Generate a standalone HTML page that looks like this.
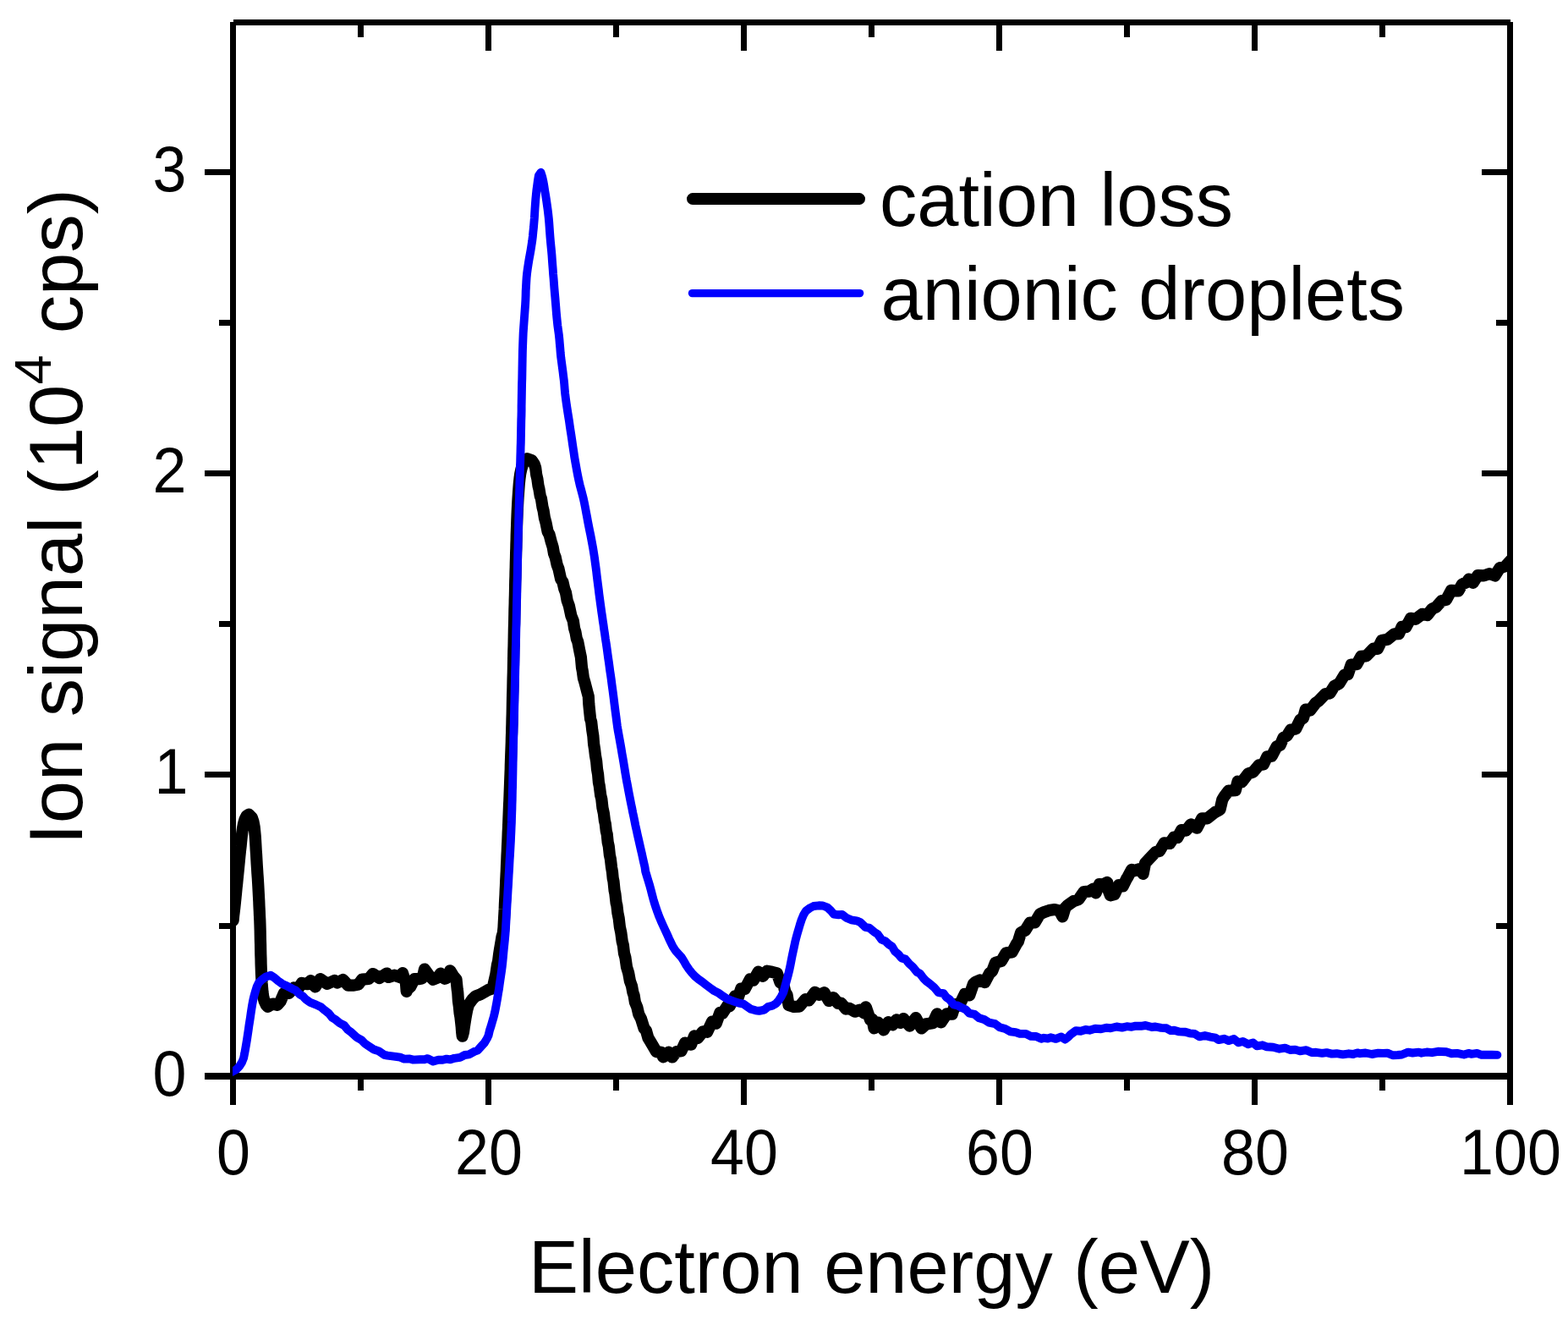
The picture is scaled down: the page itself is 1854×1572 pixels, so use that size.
<!DOCTYPE html>
<html lang="en">
<head>
<meta charset="utf-8">
<title>Ion signal vs electron energy</title>
<style>
html,body{margin:0;padding:0;background:#fff;}
body{width:1854px;height:1572px;overflow:hidden;}
svg{display:block;}
text{font-family:"Liberation Sans",Arial,Helvetica,sans-serif;fill:#000;}
.ax{stroke:#000;stroke-width:7;fill:none;stroke-linecap:butt;shape-rendering:crispEdges;}
.tk{font-size:75.6px;}
.tt{font-size:89px;}
.c1{stroke:#000;stroke-width:14.2;fill:none;stroke-linejoin:round;stroke-linecap:round;}
.c2{stroke:#0000ff;stroke-width:9.9;fill:none;stroke-linejoin:round;stroke-linecap:round;}
</style>
</head>
<body>
<svg width="1854" height="1572" viewBox="0 0 1854 1572">
<defs><clipPath id="plotclip"><rect x="275.0" y="26.5" width="1511.0" height="1246.0"/></clipPath></defs>
<rect x="0" y="0" width="1854" height="1572" fill="#ffffff"/>
<g id="axes">
<line class="ax" x1="242.0" y1="1272.0" x2="1785.5" y2="1272.0" style="stroke-width:8"/>
<line class="ax" x1="275.5" y1="26.5" x2="1785.5" y2="26.5"/>
<line class="ax" x1="275.5" y1="26.0" x2="275.5" y2="1272.0"/>
<line class="ax" x1="1785.5" y1="26.0" x2="1785.5" y2="1272.0"/>
<line class="ax" x1="275.5" y1="1272.0" x2="275.5" y2="1305.5"/>
<line class="ax" x1="275.5" y1="26.5" x2="275.5" y2="60.0"/>
<line class="ax" x1="426.5" y1="1272.0" x2="426.5" y2="1289.0"/>
<line class="ax" x1="426.5" y1="26.5" x2="426.5" y2="43.5"/>
<line class="ax" x1="577.5" y1="1272.0" x2="577.5" y2="1305.5"/>
<line class="ax" x1="577.5" y1="26.5" x2="577.5" y2="60.0"/>
<line class="ax" x1="728.5" y1="1272.0" x2="728.5" y2="1289.0"/>
<line class="ax" x1="728.5" y1="26.5" x2="728.5" y2="43.5"/>
<line class="ax" x1="879.5" y1="1272.0" x2="879.5" y2="1305.5"/>
<line class="ax" x1="879.5" y1="26.5" x2="879.5" y2="60.0"/>
<line class="ax" x1="1030.5" y1="1272.0" x2="1030.5" y2="1289.0"/>
<line class="ax" x1="1030.5" y1="26.5" x2="1030.5" y2="43.5"/>
<line class="ax" x1="1181.5" y1="1272.0" x2="1181.5" y2="1305.5"/>
<line class="ax" x1="1181.5" y1="26.5" x2="1181.5" y2="60.0"/>
<line class="ax" x1="1332.5" y1="1272.0" x2="1332.5" y2="1289.0"/>
<line class="ax" x1="1332.5" y1="26.5" x2="1332.5" y2="43.5"/>
<line class="ax" x1="1483.5" y1="1272.0" x2="1483.5" y2="1305.5"/>
<line class="ax" x1="1483.5" y1="26.5" x2="1483.5" y2="60.0"/>
<line class="ax" x1="1634.5" y1="1272.0" x2="1634.5" y2="1289.0"/>
<line class="ax" x1="1634.5" y1="26.5" x2="1634.5" y2="43.5"/>
<line class="ax" x1="1785.5" y1="1272.0" x2="1785.5" y2="1305.5"/>
<line class="ax" x1="1785.5" y1="26.5" x2="1785.5" y2="60.0"/>
<line class="ax" x1="258.5" y1="1094.0" x2="275.5" y2="1094.0"/>
<line class="ax" x1="1768.5" y1="1094.0" x2="1785.5" y2="1094.0"/>
<line class="ax" x1="242.0" y1="915.9" x2="275.5" y2="915.9"/>
<line class="ax" x1="1752.0" y1="915.9" x2="1785.5" y2="915.9"/>
<line class="ax" x1="258.5" y1="737.9" x2="275.5" y2="737.9"/>
<line class="ax" x1="1768.5" y1="737.9" x2="1785.5" y2="737.9"/>
<line class="ax" x1="242.0" y1="559.9" x2="275.5" y2="559.9"/>
<line class="ax" x1="1752.0" y1="559.9" x2="1785.5" y2="559.9"/>
<line class="ax" x1="258.5" y1="381.8" x2="275.5" y2="381.8"/>
<line class="ax" x1="1768.5" y1="381.8" x2="1785.5" y2="381.8"/>
<line class="ax" x1="242.0" y1="203.8" x2="275.5" y2="203.8"/>
<line class="ax" x1="1752.0" y1="203.8" x2="1785.5" y2="203.8"/>
</g>
<g id="curves" clip-path="url(#plotclip)">
<polyline class="c1" points="275.6,1088.0 276.1,1082.9 276.7,1077.6 277.4,1071.8 278.0,1066.0 278.6,1060.1 279.1,1055.1 279.6,1049.7 280.2,1044.2 280.7,1038.8 281.3,1033.0 281.9,1027.0
282.4,1021.8 282.9,1016.5 283.4,1011.3 284.0,1005.6 284.6,1000.5 285.1,994.9 285.7,989.3 286.3,984.2 287.0,979.2 288.0,973.9 289.4,968.8 291.8,964.1
294.3,962.7 297.9,966.4 299.5,971.2 300.6,977.0 301.2,982.7 301.7,988.0 302.1,993.9 302.4,999.3 302.7,1005.0 303.1,1010.6 303.4,1016.0 303.7,1021.6
304.1,1027.6 304.4,1032.7 304.8,1038.0 305.1,1043.2 305.4,1048.3 305.7,1054.1 306.0,1059.8 306.3,1065.3 306.5,1071.0 306.8,1076.7 307.0,1082.1 307.3,1087.5
307.5,1093.4 307.7,1100.0 307.8,1105.6 307.9,1110.9 308.1,1116.7 308.2,1122.6 308.3,1128.0 308.5,1133.6 308.6,1139.3 308.8,1144.7 309.0,1150.6 309.3,1156.2
309.6,1161.7 310.0,1166.8 310.5,1172.5 311.2,1177.8 312.6,1183.3 314.8,1187.9 316.6,1189.8 321.6,1186.9 322.5,1186.5 327.9,1187.8 331.6,1183.6 335.7,1174.2
341.8,1173.8 347.6,1167.4 352.2,1169.0 356.9,1161.9 364.0,1163.2 367.4,1159.2 372.8,1166.4 378.7,1157.2 386.9,1162.9 395.6,1158.9 398.8,1161.6 405.6,1158.0
411.6,1164.6 418.4,1164.6 423.8,1163.5 428.2,1157.6 436.0,1157.0 440.9,1151.0 448.6,1156.0 457.3,1150.5 459.3,1155.0 466.3,1152.7 474.5,1155.5 476.0,1150.2
479.1,1159.8 479.9,1161.4 480.7,1171.8 481.4,1169.9 485.2,1166.4 490.1,1157.0 494.4,1157.2 498.7,1156.4 500.7,1151.4 502.0,1145.5 507.4,1153.1 512.1,1157.8
517.6,1155.5 520.9,1150.6 525.8,1156.7 527.9,1156.0 530.5,1153.3 532.2,1147.3 535.9,1153.3 539.5,1157.5 540.7,1169.3 541.3,1173.6 541.9,1182.9 542.9,1190.1
543.6,1197.5 544.4,1201.9 545.1,1208.1 545.7,1213.8 546.1,1219.4 546.7,1224.7 548.0,1219.9 548.7,1214.7 549.6,1209.0 550.4,1203.8 551.4,1198.3 552.5,1192.7
554.0,1187.5 558.2,1181.6 562.5,1177.3 567.9,1175.3 576.7,1170.3 582.5,1168.3 584.7,1158.6 586.3,1151.7 587.9,1140.8 589.1,1135.9 590.0,1128.6 590.8,1123.4
591.8,1117.5 592.7,1112.2 593.5,1107.2 594.9,1102.4 595.5,1096.1 595.8,1090.0 596.1,1084.6 596.4,1079.4 596.7,1074.3 596.9,1068.8 597.2,1062.8 597.5,1057.6
597.7,1052.1 598.0,1046.5 598.2,1040.8 598.5,1035.0 598.8,1029.1 599.0,1023.2 599.3,1017.3 599.5,1011.5 599.8,1005.8 600.0,1000.2 600.3,994.9 600.5,989.7
600.7,983.8 601.0,978.4 601.2,972.7 601.4,967.6 601.6,962.4 601.8,957.2 602.0,951.8 602.3,946.4 602.5,941.0 602.7,935.6 602.9,930.2 603.1,924.8
603.3,919.5 603.5,914.3 603.7,909.2 603.8,904.2 604.0,898.3 604.2,892.7 604.4,887.4 604.6,882.4 604.8,876.8 604.9,871.5 605.1,866.3 605.2,861.3
605.4,855.3 605.5,849.4 605.7,843.6 605.8,837.7 605.9,831.8 606.0,826.8 606.1,821.7 606.3,816.5 606.4,811.2 606.5,806.0 606.6,800.8 606.8,795.3
606.9,789.5 607.0,784.5 607.1,779.3 607.2,774.0 607.3,768.7 607.5,763.2 607.6,757.8 607.7,752.3 607.8,746.9 607.9,741.5 608.1,736.2 608.2,730.9
608.3,725.9 608.4,719.9 608.6,714.3 608.7,708.7 608.9,702.8 609.0,697.7 609.1,692.4 609.2,686.9 609.4,681.4 609.5,675.8 609.7,670.2 609.8,664.6
610.0,659.0 610.1,653.5 610.3,648.1 610.4,642.9 610.6,637.9 610.7,632.1 610.9,626.8 611.1,621.0 611.3,615.3 611.5,610.1 611.7,605.0 612.0,599.0
612.3,593.4 612.6,588.2 613.0,582.4 613.4,577.1 613.8,571.7 614.5,565.3 615.2,560.1 616.3,554.9 617.8,549.6 620.6,544.4 623.3,542.2 628.9,544.2
631.7,548.6 633.2,553.1 634.2,561.1 635.4,566.2 636.5,574.2 637.5,578.3 638.8,586.4 639.9,589.1 641.5,599.4 642.6,603.6 643.9,612.0 645.5,617.8
647.6,628.3 649.6,632.0 651.7,640.1 653.7,646.7 655.0,654.2 656.8,658.9 658.7,667.7 660.5,672.4 663.1,684.3 665.4,687.8 667.3,696.1 669.0,700.6
670.7,710.0 672.9,716.2 675.4,727.9 677.8,733.9 679.1,742.7 680.5,747.4 681.8,754.9 683.3,758.7 685.5,770.3 686.9,776.8 688.0,789.1 688.8,793.1
689.9,801.4 691.5,806.7 694.4,818.0 695.8,823.1 696.3,832.3 696.9,838.2 698.1,849.7 699.2,853.3 700.3,863.2 701.4,870.2 702.1,879.4 703.1,885.7
704.0,893.3 705.2,900.1 706.0,909.0 707.1,915.4 707.9,924.7 708.7,928.4 710.2,940.0 711.3,944.4 712.5,955.1 713.9,961.6 714.9,969.9 715.8,973.6
716.8,982.5 717.7,985.8 718.7,995.7 719.8,1000.4 720.9,1010.8 721.9,1015.2 723.0,1024.9 724.0,1030.8 724.7,1038.1 725.5,1041.7 726.6,1052.6 727.4,1056.4
728.6,1067.2 729.4,1070.3 730.4,1079.1 731.7,1085.5 732.9,1095.8 734.3,1102.2 735.7,1112.8 736.9,1117.4 738.0,1126.8 739.4,1131.7 741.0,1143.0 743.1,1149.8
744.9,1159.6 747.0,1165.4 748.4,1173.0 749.6,1176.5 750.9,1184.6 753.3,1190.4 755.2,1198.7 758.1,1204.3 761.6,1215.6 763.9,1217.9 766.4,1226.8 771.2,1234.7
776.1,1243.1 781.8,1243.7 784.1,1249.3 790.6,1243.7 794.9,1249.5 799.8,1243.0 805.5,1242.2 810.0,1232.6 817.1,1234.7 821.0,1224.4 825.1,1226.9 831.0,1219.3
836.2,1219.8 842.0,1207.5 846.7,1209.7 851.4,1196.8 854.4,1197.6 860.7,1187.9 862.6,1189.4 869.1,1177.3 872.3,1180.3 876.2,1168.7 880.7,1169.0 886.8,1157.5
891.0,1158.6 896.6,1148.7 902.0,1153.9 906.9,1147.7 912.8,1148.8 918.8,1150.4 922.5,1161.2 926.3,1163.3 928.5,1172.8 930.5,1175.7 932.5,1187.9 938.7,1189.9
945.1,1189.7 952.2,1181.2 956.6,1182.4 963.6,1172.8 968.7,1175.9 974.7,1173.2 980.1,1183.0 985.5,1179.2 991.0,1186.0 994.6,1185.6 1000.2,1192.6 1004.3,1191.8
1010.8,1195.7 1016.4,1193.7 1021.8,1197.3 1023.8,1190.3 1029.0,1205.3 1031.5,1204.9 1033.5,1215.4 1038.3,1208.6 1044.8,1217.4 1050.3,1208.1 1055.4,1211.4 1060.0,1205.3
1064.9,1209.0 1068.3,1204.1 1075.6,1212.6 1082.9,1203.1 1089.5,1215.4 1095.0,1210.4 1102.9,1209.3 1108.0,1198.3 1112.6,1208.4 1119.5,1198.3 1125.8,1198.6 1129.3,1187.2
1134.1,1188.6 1140.7,1175.0 1146.3,1176.3 1150.9,1163.1 1153.3,1160.7 1158.6,1158.5 1164.4,1161.1 1170.0,1150.5 1173.2,1147.8 1177.0,1137.9 1184.0,1135.9 1189.7,1126.2
1196.6,1125.5 1201.8,1115.8 1203.8,1113.1 1207.1,1102.3 1212.2,1099.7 1217.9,1090.5 1223.6,1090.5 1229.5,1080.5 1234.2,1078.3 1240.4,1076.1 1247.1,1075.0 1252.9,1076.6
1256.3,1083.4 1259.5,1072.9 1262.6,1069.8 1269.7,1065.0 1275.4,1063.0 1281.6,1054.0 1287.6,1053.7 1292.8,1050.5 1295.7,1055.4 1299.9,1045.1 1304.3,1045.3 1309.2,1042.9
1310.7,1052.7 1312.9,1058.3 1317.7,1057.2 1322.9,1046.0 1327.8,1047.3 1332.0,1038.8 1333.4,1036.7 1338.1,1027.9 1341.0,1029.1 1347.7,1027.0 1351.6,1032.9 1354.0,1020.3
1358.2,1015.7 1366.4,1007.1 1371.0,1005.9 1376.6,996.3 1383.1,997.0 1388.0,989.7 1392.2,990.0 1397.1,981.0 1402.4,981.7 1408.1,974.4 1415.2,978.7 1421.2,967.3
1427.5,967.3 1437.0,959.8 1442.5,957.0 1445.2,945.3 1447.4,941.5 1452.7,934.6 1460.8,934.1 1463.5,923.7 1468.4,924.2 1475.8,914.5 1481.7,912.5 1488.6,904.2
1493.9,903.5 1498.3,894.3 1503.7,893.6 1509.6,882.4 1513.7,880.7 1517.3,872.2 1521.8,869.5 1526.2,862.5 1532.1,861.5 1537.3,850.9 1541.0,848.6 1543.8,838.5
1549.0,839.7 1555.5,831.1 1559.5,828.2 1566.9,820.3 1572.4,819.4 1577.8,810.8 1583.5,807.9 1589.7,797.8 1593.8,797.1 1597.7,785.5 1604.2,785.1 1609.3,775.8
1615.5,775.4 1623.9,766.7 1629.0,766.8 1633.7,757.0 1640.6,755.7 1648.6,749.3 1654.0,749.1 1657.6,740.8 1662.4,741.1 1668.0,730.8 1673.7,731.8 1681.6,725.8
1687.6,727.0 1693.5,719.5 1697.8,717.7 1704.5,710.2 1710.0,708.9 1715.9,697.9 1724.5,698.3 1728.8,690.6 1734.4,688.0 1736.8,684.6 1741.7,688.9 1747.4,680.0
1754.6,680.4 1761.1,678.1 1767.6,680.4 1773.2,671.4 1780.0,669.3 1787.1,661.6 1788.6,664.1"/>
<polyline class="c2" points="274.2,1267.0 279.6,1264.0 283.2,1260.1 286.1,1255.5 288.1,1250.5 289.2,1245.1 290.1,1240.1 291.0,1234.8 292.0,1228.9 292.8,1223.6 293.7,1217.6 294.4,1212.4
295.2,1207.4 296.0,1202.2 296.7,1197.3 297.5,1192.0 298.3,1187.1 299.3,1181.9 300.5,1176.8 302.0,1171.6 303.6,1166.4 305.9,1161.6 309.9,1157.7 314.4,1154.4
320.0,1152.8 324.3,1155.5 328.7,1159.3 333.8,1162.9 339.7,1165.6 345.6,1168.7 349.6,1170.5 354.4,1175.4 358.0,1177.3 361.4,1181.0 366.3,1184.6 373.9,1187.6
379.5,1190.3 384.1,1194.2 389.0,1198.0 392.7,1202.7 396.1,1204.7 401.5,1209.1 407.0,1212.0 411.2,1217.1 415.5,1220.3 421.6,1225.9 427.4,1229.3 431.4,1233.4
435.8,1236.3 441.5,1240.2 447.9,1242.4 454.5,1246.8 458.2,1247.6 465.8,1248.6 473.1,1249.7 477.9,1251.6 484.5,1251.5 488.7,1252.6 496.6,1252.3 501.9,1252.2
505.7,1251.1 512.2,1254.5 518.3,1252.7 523.5,1252.7 528.0,1251.6 532.4,1252.4 537.2,1250.8 544.0,1249.8 549.5,1247.0 554.5,1246.4 561.4,1242.7 565.0,1241.3
568.9,1236.9 572.8,1232.6 575.7,1227.8 577.5,1224.0 579.0,1217.6 580.5,1213.1 582.0,1207.9 583.7,1202.1 585.1,1196.4 586.1,1191.3 587.2,1185.3 588.2,1179.7
589.0,1174.5 590.0,1168.9 590.7,1163.7 591.5,1158.1 592.3,1152.8 593.1,1147.2 593.8,1142.0 594.4,1136.4 594.9,1131.2 595.4,1125.6 595.9,1120.4 596.5,1114.8
597.0,1109.6 597.5,1104.0 597.8,1099.9 598.1,1094.7 598.4,1089.5 598.7,1084.1 599.0,1078.8 599.3,1073.7 599.6,1068.1 600.0,1062.1 600.3,1056.9 600.6,1051.4
601.0,1045.7 601.3,1039.9 601.6,1034.1 602.0,1028.1 602.3,1022.2 602.6,1016.3 603.0,1010.5 603.3,1004.8 603.6,999.2 603.9,993.9 604.1,988.7 604.4,982.9
604.6,977.5 604.9,971.7 605.0,966.6 605.2,961.4 605.4,956.1 605.5,950.7 605.7,945.3 605.8,939.9 605.9,934.5 606.1,929.1 606.2,923.8 606.3,918.5
606.4,913.3 606.5,908.2 606.6,902.2 606.7,896.4 606.8,890.9 606.9,885.7 607.1,880.0 607.2,874.6 607.3,869.4 607.5,864.3 607.6,859.3 607.8,853.4
607.9,847.5 608.1,841.6 608.2,835.7 608.4,829.8 608.5,824.8 608.6,819.6 608.7,814.4 608.8,809.3 609.0,803.5 609.1,798.1 609.2,792.4 609.4,786.5
609.5,781.4 609.6,776.2 609.7,770.8 609.8,765.4 610.0,760.0 610.1,754.5 610.2,749.1 610.3,743.6 610.5,738.3 610.6,733.0 610.7,727.9 610.8,722.9
610.9,717.1 611.0,711.6 611.2,705.9 611.3,700.1 611.4,694.2 611.5,689.1 611.7,684.0 611.8,678.7 611.9,673.5 612.0,668.2 612.1,662.9 612.2,657.6
612.3,652.4 612.5,647.2 612.6,642.0 612.7,636.9 612.8,631.9 613.0,626.1 613.1,620.4 613.2,614.9 613.4,609.2 613.5,603.3 613.7,598.2 613.8,593.0
614.0,587.6 614.1,582.3 614.3,576.9 614.4,571.4 614.6,566.0 614.7,560.6 614.9,555.3 615.0,550.0 615.2,544.9 615.3,539.8 615.5,534.0 615.6,528.5
615.8,523.3 615.9,517.9 616.0,512.6 616.1,507.3 616.2,501.8 616.3,496.4 616.5,491.0 616.6,485.6 616.6,480.2 616.7,475.0 616.8,469.9 616.9,464.0
617.0,458.4 617.1,453.1 617.3,447.4 617.4,441.3 617.5,435.7 617.6,430.2 617.7,424.9 617.8,419.7 617.9,414.7 618.1,408.9 618.3,403.5 618.5,398.4
618.7,393.3 619.1,387.7 619.5,382.0 619.9,376.4 620.3,371.1 620.7,365.4 621.1,359.9 621.4,354.5 621.6,349.3 621.7,344.0 622.0,338.8 622.3,333.2
622.6,328.2 623.1,323.1 623.8,317.8 624.7,311.9 625.6,306.4 626.6,301.0 627.6,295.3 628.4,290.2 629.2,285.1 629.9,279.3 630.4,274.0 631.0,268.4
631.4,263.3 631.9,257.3 632.2,251.9 632.5,246.8 632.9,241.1 633.3,235.8 633.8,230.8 634.4,224.8 635.2,219.0 636.0,213.0 636.9,207.6 639.5,203.8
641.2,209.0 642.4,214.3 643.4,220.2 644.3,226.0 645.3,231.8 646.1,236.9 646.8,242.0 647.6,247.6 648.2,252.7 648.8,258.0 649.3,263.8 649.7,269.3
650.1,275.0 650.5,280.3 651.0,286.2 651.5,291.3 652.0,296.2 652.5,301.9 652.9,307.8 653.3,313.1 653.7,318.2 654.1,324.1 654.6,329.6 655.0,335.2
655.4,340.4 655.9,346.4 656.4,351.7 656.8,356.8 657.3,362.7 657.7,368.0 658.2,373.7 658.7,378.8 659.3,384.6 660.1,390.4 660.8,395.4 661.4,401.0
661.8,406.0 662.3,411.4 662.7,416.8 663.3,422.7 664.1,428.6 664.8,433.8 665.5,439.1 666.1,444.1 666.8,449.7 667.3,454.8 667.7,460.1 668.2,465.3
668.9,471.0 669.7,476.9 670.5,482.2 671.3,487.4 672.1,492.4 673.0,498.1 673.7,503.2 674.5,508.5 675.3,513.6 676.2,519.4 677.0,525.2 677.8,530.4
678.6,535.7 679.3,540.7 680.3,546.3 681.2,551.3 682.1,556.5 683.1,561.7 684.3,567.5 685.6,573.2 687.0,578.4 688.4,583.7 689.7,588.7 690.9,594.3
692.0,599.9 693.1,605.8 694.1,611.0 695.1,616.7 696.2,622.3 697.3,627.7 698.3,632.6 699.3,637.8 700.3,643.2 701.3,648.7 702.2,654.3 703.0,659.4
703.7,664.9 704.4,669.8 705.1,675.1 705.7,680.5 706.4,686.1 707.1,691.6 707.8,697.0 708.4,702.2 709.2,708.1 709.9,713.4 710.6,718.4 711.3,723.6
712.1,728.8 712.8,734.0 713.6,739.1 714.3,744.3 715.1,749.3 715.9,755.2 716.8,760.8 717.6,766.4 718.4,772.4 719.1,777.5 719.9,782.7 720.6,788.0
721.3,793.3 722.1,798.5 722.8,803.5 723.5,809.2 724.3,814.9 725.0,820.1 725.7,825.6 726.4,831.3 727.1,836.9 727.8,842.4 728.5,847.5 729.2,853.1
729.9,858.4 730.7,863.5 731.7,868.8 732.6,873.9 733.7,880.0 734.6,885.2 735.5,890.7 736.4,895.7 737.3,901.0 738.2,906.5 739.1,912.1 740.0,917.5
740.9,922.7 742.0,928.3 743.0,933.9 744.1,939.7 745.1,944.8 746.1,949.9 747.2,955.1 748.2,960.3 749.3,965.3 750.3,970.2 751.4,975.8 752.7,981.5
753.8,986.7 755.1,992.4 756.4,998.1 757.7,1003.9 759.0,1009.4 760.1,1014.5 761.3,1019.8 762.5,1025.0 763.2,1030.0 764.7,1035.0 766.4,1040.6 768.1,1046.2
769.6,1051.8 771.0,1057.3 772.4,1062.6 774.1,1068.2 775.7,1073.2 777.4,1078.1 779.4,1083.4 781.7,1088.9 783.9,1093.7 786.2,1098.7 788.6,1103.9 790.9,1109.1
793.3,1114.2 795.5,1118.7 798.7,1123.7 802.3,1127.6 805.9,1131.6 808.7,1136.1 811.3,1140.7 814.7,1145.7 818.1,1150.0 821.7,1153.9 825.7,1157.2 830.3,1160.6
834.9,1164.1 839.6,1167.6 844.5,1171.1 849.5,1173.7 854.0,1176.8 858.3,1179.7 863.0,1181.9 868.4,1183.8 873.8,1185.7 879.0,1186.7 883.6,1189.8 888.0,1192.8
893.5,1194.3 897.6,1194.9 903.6,1193.6 908.0,1190.1 913.1,1188.7 917.5,1186.2 921.0,1182.2 923.9,1177.6 926.2,1173.1 927.6,1168.2 929.0,1163.0 930.6,1157.1
932.1,1151.6 933.4,1146.3 934.6,1140.5 935.6,1135.3 936.6,1130.1 937.8,1124.4 938.9,1119.4 940.0,1114.2 941.2,1109.2 942.8,1103.3 944.4,1097.8 946.0,1092.4
947.8,1086.9 950.0,1081.6 952.9,1076.7 956.9,1073.7 962.0,1071.0 968.0,1070.3 973.0,1070.5 978.4,1072.6 982.4,1076.4 985.9,1080.5 991.6,1081.3 995.7,1080.9
1000.5,1084.7 1006.5,1087.3 1013.0,1088.3 1017.2,1090.1 1023.2,1095.8 1028.2,1096.9 1033.7,1101.6 1037.7,1104.1 1042.2,1110.4 1047.1,1112.6 1051.3,1116.5 1054.8,1118.7
1058.2,1124.5 1062.3,1128.0 1066.0,1132.4 1070.5,1133.6 1075.1,1139.1 1079.3,1142.9 1084.3,1149.0 1087.8,1150.7 1092.0,1156.4 1095.4,1159.7 1100.9,1163.9 1104.4,1166.9
1109.8,1173.2 1115.5,1174.1 1119.2,1178.9 1122.8,1181.4 1127.6,1187.5 1132.0,1188.3 1137.8,1191.3 1142.0,1193.4 1146.1,1197.7 1152.3,1198.8 1157.8,1203.3 1164.3,1205.3
1169.4,1208.6 1176.6,1210.1 1182.1,1214.2 1188.6,1216.0 1194.7,1219.3 1200.9,1220.1 1205.9,1221.9 1212.9,1221.9 1218.9,1224.9 1225.1,1225.0 1231.2,1227.7 1234.2,1226.8
1239.3,1227.5 1242.3,1226.2 1248.5,1227.9 1254.9,1225.4 1259.3,1228.6 1263.2,1225.6 1265.9,1222.8 1272.0,1218.2 1277.9,1218.7 1283.5,1217.0 1288.3,1217.7 1294.9,1215.8
1301.8,1216.3 1308.1,1214.7 1313.2,1215.2 1320.2,1213.5 1326.7,1214.6 1332.4,1213.2 1338.0,1213.8 1342.7,1212.6 1349.2,1212.8 1354.5,1212.0 1361.9,1214.0 1366.2,1213.5
1372.9,1214.9 1379.2,1215.3 1384.3,1218.1 1388.4,1217.7 1394.4,1219.4 1401.6,1219.8 1406.7,1221.3 1412.5,1221.9 1418.2,1225.4 1424.7,1224.0 1431.2,1225.6 1437.1,1226.7
1440.8,1229.1 1447.5,1227.8 1452.9,1230.1 1459.0,1228.0 1464.4,1232.3 1469.5,1230.9 1475.6,1234.2 1481.6,1232.4 1486.1,1236.3 1492.7,1235.3 1498.0,1237.3 1505.4,1237.8
1512.8,1239.7 1519.4,1238.7 1525.4,1241.0 1531.5,1240.6 1537.1,1242.4 1544.5,1241.2 1550.9,1244.1 1556.1,1243.8 1563.3,1244.9 1568.6,1244.1 1574.8,1245.6 1580.4,1245.2
1587.7,1246.4 1594.8,1245.3 1600.0,1246.0 1605.0,1244.4 1608.1,1245.2 1614.7,1244.5 1622.1,1246.0 1629.6,1244.7 1635.2,1244.9 1640.4,1244.6 1646.8,1247.3 1652.4,1247.0
1657.6,1246.5 1664.8,1243.7 1670.2,1244.5 1677.5,1243.6 1680.5,1244.7 1687.0,1243.5 1693.1,1244.2 1700.2,1242.8 1704.2,1243.0 1710.0,1243.3 1716.3,1245.3 1722.9,1244.9
1730.8,1246.5 1736.3,1244.9 1739.6,1245.8 1746.4,1244.9 1751.8,1246.8 1756.4,1246.6 1763.9,1246.8 1770.4,1246.9"/>
</g>
<g id="xticklabels" class="tk" text-anchor="middle">
<text transform="translate(276.0,1387.6) scale(0.950,1)">0</text>
<text transform="translate(578.0,1387.6) scale(0.950,1)">20</text>
<text transform="translate(880.0,1387.6) scale(0.950,1)">40</text>
<text transform="translate(1182.0,1387.6) scale(0.950,1)">60</text>
<text transform="translate(1484.0,1387.6) scale(0.950,1)">80</text>
<text transform="translate(1786.0,1387.6) scale(0.950,1)">100</text>
</g>
<g id="yticklabels" class="tk" text-anchor="end">
<text transform="translate(220.5,1294.5) scale(0.950,1)">0</text>
<text transform="translate(222.5,938.4) scale(0.950,1)">1</text>
<text transform="translate(220.5,582.4) scale(0.950,1)">2</text>
<text transform="translate(220.5,226.3) scale(0.950,1)">3</text>
</g>
<text class="tt" transform="translate(1030.7,1528) scale(0.994,1)" text-anchor="middle">Electron energy (eV)</text>
<text class="tt" transform="translate(97.4,610.8) rotate(-90) scale(1.018,1)" text-anchor="middle">Ion signal (10<tspan font-size="62" dy="-37">4</tspan><tspan dy="37"> cps)</tspan></text>
<g id="legend">
<line class="c1" x1="819" y1="235.1" x2="1016" y2="235.1" style="stroke-width:14"/>
<line class="c2" x1="818.5" y1="346.6" x2="1016.6" y2="346.6" style="stroke-width:9.4"/>
<text class="tt" transform="translate(1040,267.3) scale(0.994,1)">cation loss</text>
<text class="tt" transform="translate(1041.5,378) scale(0.994,1)">anionic droplets</text>
</g>
</svg>
</body>
</html>
